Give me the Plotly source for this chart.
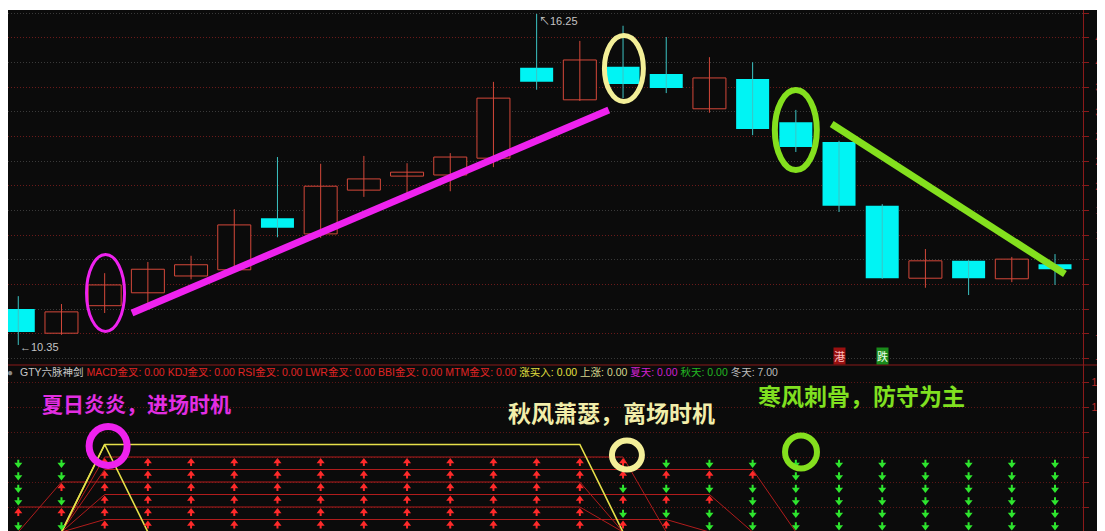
import plotly.graph_objects as go

# ---------------- data ----------------
opens  = [10.99, 10.56, 11.05, 11.28, 11.58, 11.69, 12.61, 12.33, 13.11, 13.36, 13.38, 13.68, 15.29,
          14.72, 15.31, 15.18, 14.56, 15.09, 14.32, 13.97, 12.83, 11.54, 11.85, 11.53, 11.79]
closes = [10.58, 10.94, 11.42, 11.70, 11.78, 12.49, 12.44, 13.18, 13.31, 13.43, 13.70, 14.75, 15.04,
          15.43, 15.00, 14.93, 15.11, 14.20, 13.88, 12.83, 11.54, 11.85, 11.54, 11.88, 11.70]
highs  = [11.22, 11.08, 11.63, 11.83, 11.94, 12.77, 13.70, 13.58, 13.72, 13.59, 13.77, 15.04, 16.25,
          15.77, 16.04, 15.84, 15.48, 15.39, 14.54, 13.99, 12.86, 12.06, 11.86, 11.92, 11.97]
lows   = [10.35, 10.53, 10.92, 11.10, 11.52, 11.65, 12.27, 12.26, 12.99, 13.02, 13.09, 13.52, 14.90,
          14.70, 14.75, 14.84, 14.49, 14.09, 13.79, 12.72, 11.53, 11.37, 11.24, 11.47, 11.42]

ref_price = 10.99                      # 0.00% line of the right-hand scale
pct_ticks = list(range(-8, 49, 4))     # percent labels of the price panel

ind_names  = ["MACD金叉", "KDJ金叉", "RSI金叉", "LWR金叉", "BBI金叉", "MTM金叉"]
ind_levels = [6, 5, 4, 3, 2, 1]
macd_flag = [0, 0, 1, 1, 1, 1, 1, 1, 1, 1, 1, 1, 1, 1, 1, 0, 0, 0, 0, 0, 0, 0, 0, 0, 0]
kdj_flag  = [0, 0, 1, 1, 1, 1, 1, 1, 1, 1, 1, 1, 1, 1, 1, 1, 1, 1, 0, 0, 0, 0, 0, 0, 0]
rsi_flag  = [0, 1, 1, 1, 1, 1, 1, 1, 1, 1, 1, 1, 1, 1, 0, 0, 0, 0, 0, 0, 0, 0, 0, 0, 0]
lwr_flag  = [0, 0, 1, 1, 1, 1, 1, 1, 1, 1, 1, 1, 1, 1, 1, 1, 1, 0, 0, 0, 0, 0, 0, 0, 0]
bbi_flag  = [1, 1, 1, 1, 1, 1, 1, 1, 1, 1, 1, 1, 1, 1, 0, 0, 0, 0, 0, 0, 0, 0, 0, 0, 0]
mtm_flag  = [0, 0, 1, 1, 1, 1, 1, 1, 1, 1, 1, 1, 1, 1, 1, 1, 0, 0, 0, 0, 0, 0, 0, 0, 0]
ind_flags = [macd_flag, kdj_flag, rsi_flag, lwr_flag, bbi_flag, mtm_flag]

buy_signal = [0, 0, 7, 0, 0, 0, 0, 0, 0, 0, 0, 0, 0, 0, 0, 0, 0, 0, 0, 0, 0, 0, 0, 0, 0]
rise_line  = [0, 0, 7, 7, 7, 7, 7, 7, 7, 7, 7, 7, 7, 7, 0, 0, 0, 0, 0, 0, 0, 0, 0, 0, 0]
summer_last, autumn_last, winter_last = 0.00, 0.00, 7.00
lower_ticks = [2, 4, 6, 8, 10, 12]

# ---------------- styles ----------------
BG = "#0b0b0b"
UP = "#d4483a"
CYAN = "#00f4f4"
CYAN_WICK = "#3cc4c4"
AX_RED = "#8a1a1a"
LBL_RED = "#b42828"
MAG = "#ee22ee"
LIME = "#84e01e"
PALEY = "#f3ef98"
FONT = "Liberation Sans, Noto Sans CJK SC, sans-serif"
CJK = "Noto Sans CJK SC, sans-serif"

# page geometry (the page body adds an 8px white margin)
PLOT_W, PLOT_H = 1075, 521

n = len(opens)
xs = list(range(n))
inc = [i for i in xs if closes[i] >= opens[i]]
dec = [i for i in xs if closes[i] < opens[i]]


def wicks(ids):
    wx, wy = [], []
    for i in ids:
        wx += [i, i, None]
        wy += [lows[i], highs[i], None]
    return wx, wy


fig = go.Figure()
for ids, col in ((inc, UP), (dec, CYAN_WICK)):
    wx, wy = wicks(ids)
    fig.add_trace(go.Scatter(x=wx, y=wy, mode="lines", line=dict(color=col, width=1),
                             xaxis="x", yaxis="y", hoverinfo="skip"))
fig.add_trace(go.Bar(x=inc, y=[abs(closes[i] - opens[i]) for i in inc],
                     base=[min(opens[i], closes[i]) for i in inc], width=0.764,
                     marker=dict(color=BG, line=dict(color=UP, width=1)),
                     xaxis="x", yaxis="y", hoverinfo="skip"))
fig.add_trace(go.Bar(x=dec, y=[abs(closes[i] - opens[i]) for i in dec],
                     base=[min(opens[i], closes[i]) for i in dec], width=0.764,
                     marker=dict(color=CYAN, line=dict(color=CYAN, width=0)),
                     xaxis="x", yaxis="y", hoverinfo="skip"))
# invisible trace so the overlay scale (second grid colour) is drawn
fig.add_trace(go.Scatter(x=[0], y=[opens[0]], mode="markers", marker=dict(opacity=0),
                         xaxis="x", yaxis="y3", hoverinfo="skip"))

# ---------------- lower indicator panel ----------------
for flags, lvl in zip(ind_flags, ind_levels):
    fig.add_trace(go.Scatter(x=xs, y=[lvl * f for f in flags], mode="lines",
                             line=dict(color="#b01c1c", width=1), xaxis="x2", yaxis="y2",
                             hoverinfo="skip"))
for series in (rise_line, buy_signal):
    fig.add_trace(go.Scatter(x=xs, y=series, mode="lines", line=dict(color="#e6e04a", width=1.6),
                             xaxis="x2", yaxis="y2", hoverinfo="skip"))

rsx, rsy, rhx, rhy, gsx, gsy, ghx, ghy = [], [], [], [], [], [], [], []
for flags, lvl in zip(ind_flags, ind_levels):
    for i, f in enumerate(flags):
        if f:
            rsx += [i, i, None]; rsy += [lvl - 0.40, lvl - 0.72, None]
            rhx.append(i); rhy.append(lvl - 0.36)
        else:
            gsx += [i, i, None]; gsy += [lvl - 0.22, lvl - 0.50, None]
            ghx.append(i); ghy.append(lvl - 0.60)
fig.add_trace(go.Scatter(x=rsx, y=rsy, mode="lines", line=dict(color="#ff2a2a", width=2),
                         xaxis="x2", yaxis="y2", hoverinfo="skip"))
fig.add_trace(go.Scatter(x=gsx, y=gsy, mode="lines", line=dict(color="#2ee62e", width=2),
                         xaxis="x2", yaxis="y2", hoverinfo="skip"))
fig.add_trace(go.Scatter(x=rhx, y=rhy, mode="markers",
                         marker=dict(symbol="triangle-up", size=7, color="#ff2a2a"),
                         xaxis="x2", yaxis="y2", hoverinfo="skip"))
fig.add_trace(go.Scatter(x=ghx, y=ghy, mode="markers",
                         marker=dict(symbol="triangle-down", size=7, color="#2ee62e"),
                         xaxis="x2", yaxis="y2", hoverinfo="skip"))

# ---------------- axes ----------------
split = (531 - 365) / PLOT_H
xrange_ = [-0.238, 24.648]
pct_vals = [ref_price * (1 + p / 100) for p in pct_ticks]


def pct_label(p):
    s = f"{p:.2f}%"
    return ("\u2007" + s) if 0 <= p < 10 else s


even = [(v, pct_label(p)) for v, p in zip(pct_vals, pct_ticks) if p % 8 == 0]
odd = [(v, pct_label(p)) for v, p in zip(pct_vals, pct_ticks) if p % 8 != 0]

common_x = dict(range=xrange_, showticklabels=False, showgrid=False, zeroline=False,
                showline=False, ticks="", automargin=False)
ytick_style = dict(side="right", ticks="outside", ticklen=5, tickcolor=AX_RED, tickwidth=1,
                   tickfont=dict(color=LBL_RED, size=11, family=FONT), zeroline=False,
                   automargin=False, tickmode="array")

fig.update_layout(
    width=PLOT_W + 22, height=PLOT_H + 2,
    margin=dict(l=0, r=22, t=2, b=0, pad=0),
    paper_bgcolor="white", plot_bgcolor=BG,
    showlegend=False, barmode="overlay", hovermode=False,
    xaxis=dict(domain=[0, 1], anchor="y", **common_x),
    xaxis2=dict(domain=[0, 1], anchor="y2", matches="x", **common_x),
    yaxis=dict(domain=[split, 1], range=[9.993, 16.321], anchor="x",
               tickvals=[v for v, _ in even], ticktext=[t for _, t in even],
               ticklabelstandoff=4, showline=True, linecolor=AX_RED, linewidth=1,
               showgrid=True, gridcolor="#3a3a3a", griddash="1px,2px", gridwidth=1,
               **ytick_style),
    yaxis3=dict(overlaying="y", range=[9.993, 16.321], anchor="x",
                tickvals=[v for v, _ in odd], ticktext=[t for _, t in odd],
                ticklabelstandoff=4, showline=False,
                showgrid=True, gridcolor="#6a1a1a", griddash="1px,2px", gridwidth=1,
                **ytick_style),
    yaxis2=dict(domain=[0, split], range=[0.08, 13.36], anchor="x2",
                tickvals=lower_ticks,
                ticktext=[("\u2007" if v < 10 else "") + f"{v:.2f}" for v in lower_ticks],
                ticklabelstandoff=0, showline=True, linecolor=AX_RED, linewidth=1,
                showgrid=True, gridcolor="#5a1616", griddash="1px,2px", gridwidth=1,
                **ytick_style),
)

# ---------------- shapes ----------------
shapes = [
    dict(type="rect", xref="paper", yref="paper", x0=1, x1=1.05, y0=0, y1=1,
         fillcolor=BG, line=dict(width=0), layer="below"),
    dict(type="line", xref="paper", yref="paper", x0=0, x1=1.05, y0=split, y1=split,
         line=dict(color=AX_RED, width=1)),
]


def ellipse(xr, yr, cx, cy, hx, hy, color, w):
    return dict(type="circle", xref=xr, yref=yr, x0=cx - hx, x1=cx + hx, y0=cy - hy, y1=cy + hy,
                line=dict(color=color, width=w))


# price panel highlights
shapes.append(ellipse("x", "y", 2.02, 11.277, 0.44, 0.686, MAG, 3))
shapes.append(ellipse("x", "y", 14.02, 15.279, 0.451, 0.588, PALEY, 5))
shapes.append(ellipse("x", "y", 18.0, 14.18, 0.486, 0.713, LIME, 6))
shapes.append(dict(type="line", xref="x", yref="y", x0=2.632, y0=10.92, x1=13.67, y1=14.539,
                   line=dict(color=MAG, width=7)))
shapes.append(dict(type="line", xref="x", yref="y", x0=18.83, y0=14.289, x1=24.23, y1=11.615,
                   line=dict(color=LIME, width=7)))
# indicator panel highlights
shapes.append(ellipse("x2", "y2", 2.08, 6.88, 0.44, 1.56, MAG, 7))
shapes.append(ellipse("x2", "y2", 14.09, 6.16, 0.347, 1.16, PALEY, 6))
shapes.append(ellipse("x2", "y2", 18.12, 6.40, 0.37, 1.32, LIME, 6))
fig.update_layout(shapes=shapes)

# ---------------- texts ----------------
hdr = ['<span style="color:#c8c8c8">GTY六脉神剑</span>']
for name, flags, lvl in zip(ind_names, ind_flags, ind_levels):
    hdr.append(f'<span style="color:#e02424">{name}: {flags[-1] * lvl:.2f}</span>')
hdr.append(f'<span style="color:#e4e040">涨买入: {buy_signal[-1]:.2f}</span>')
hdr.append(f'<span style="color:#d8d890">上涨: {rise_line[-1]:.2f}</span>')
hdr.append(f'<span style="color:#d020d0">夏天: {summer_last:.2f}</span>')
hdr.append(f'<span style="color:#22b822">秋天: {autumn_last:.2f}</span>')
hdr.append(f'<span style="color:#bdbdbd">冬天: {winter_last:.2f}</span>')

hdr_y = (531 - 372) / PLOT_H
lo_i = lows.index(min(lows))
hi_i = highs.index(max(highs))
annotations = [
    dict(xref="paper", yref="paper", x=(18 - 8) / PLOT_W, y=hdr_y, xanchor="left",
         yanchor="middle", showarrow=False, text=" ".join(hdr), font=dict(size=10.5, family=FONT)),
    dict(xref="paper", yref="paper", x=(10 - 8) / PLOT_W, y=hdr_y, xanchor="center",
         yanchor="middle", showarrow=False, text="●", font=dict(size=10, color="#8a8a8a", family=FONT)),
    dict(xref="x", yref="y", x=lo_i, y=lows[lo_i], xanchor="left", yanchor="middle", yshift=-2,
         showarrow=False, text=f"←{lows[lo_i]:.2f}", font=dict(size=11, color="#c4c4c4", family=FONT)),
    dict(xref="x", yref="y", x=hi_i, y=highs[hi_i], xanchor="left", yanchor="top", yshift=1,
         showarrow=False, text=f"↖{highs[hi_i]:.2f}", font=dict(size=11, color="#c4c4c4", family=FONT)),
    dict(xref="x", yref="paper", x=19, y=(531 - 356) / PLOT_H, xanchor="center", yanchor="middle",
         showarrow=False, text="港", bgcolor="#9a1010", borderpad=0,
         font=dict(size=11, color="#ffc0c0", family=CJK)),
    dict(xref="x", yref="paper", x=20, y=(531 - 356) / PLOT_H, xanchor="center", yanchor="middle",
         showarrow=False, text="跌", bgcolor="#1a8a1a", borderpad=0,
         font=dict(size=11, color="#e8ffe8", family=CJK)),
    dict(xref="x2", yref="y2", x=2.748, y=10.32, showarrow=False, xanchor="center", yanchor="middle",
         text="<b>夏日炎炎，进场时机</b>", font=dict(size=21, color="#e22ee2", family=CJK)),
    dict(xref="x2", yref="y2", x=13.74, y=9.6, showarrow=False, xanchor="center", yanchor="middle",
         text="<b>秋风萧瑟，离场时机</b>", font=dict(size=23, color="#f2eeaa", family=CJK)),
    dict(xref="x2", yref="y2", x=19.53, y=10.96, showarrow=False, xanchor="center", yanchor="middle",
         text="<b>寒风刺骨，防守为主</b>", font=dict(size=23, color="#80e020", family=CJK)),
]
fig.update_layout(annotations=annotations)

fig.write_html("out.html")
